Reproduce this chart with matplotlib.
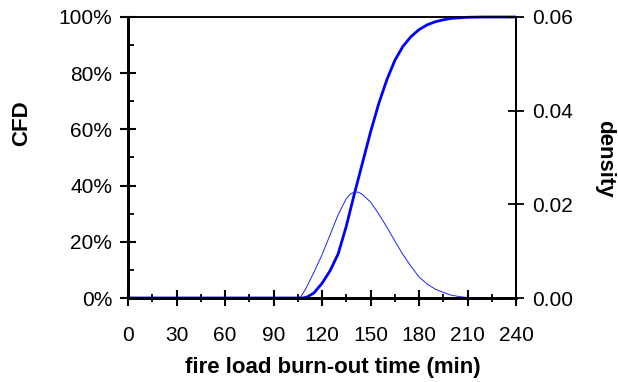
import matplotlib
matplotlib.use("Agg")
import matplotlib.pyplot as plt
from matplotlib.ticker import MultipleLocator, FuncFormatter

# ---- data ----
time_cfd = [0, 105, 108, 111, 115, 120, 125, 130, 135, 140, 145, 150, 155, 160, 165,
            170, 175, 180, 185, 190, 195, 200, 210, 220, 240]
cfd = [0, 0, 0.0, 0.004, 0.018, 0.052, 0.097, 0.157, 0.255, 0.37, 0.48, 0.59, 0.69,
       0.775, 0.845, 0.895, 0.93, 0.955, 0.972, 0.983, 0.99, 0.995, 0.999, 1.0, 1.0]

time_den = [0, 105, 107, 110, 115, 120, 125, 130, 135, 137.5, 140, 142.5, 145, 150,
            155, 160, 165, 170, 175, 180, 185, 190, 195, 200, 205, 210, 215, 224]
density = [0, 0, 0.0003, 0.002, 0.0055, 0.0092, 0.0135, 0.0178, 0.0212, 0.0222,
           0.0226, 0.0226, 0.0221, 0.0205, 0.018, 0.0152, 0.0122, 0.0093, 0.0068,
           0.0045, 0.003, 0.0019, 0.0012, 0.0006, 0.0003, 0.0001, 0.00005, 0]

x_ticks = [0, 30, 60, 90, 120, 150, 180, 210, 240]
cfd_ticks = [0, 0.2, 0.4, 0.6, 0.8, 1.0]
den_ticks = [0.00, 0.02, 0.04, 0.06]

plt.rcParams['font.family'] = ['Liberation Sans', 'DejaVu Sans']

W, H = 618, 382
fig = plt.figure(figsize=(W / 100, H / 100), dpi=100)
L, R, T, B = 128, 516, 17, 298
ax = fig.add_axes([L / W, 1 - B / H, (R - L) / W, (B - T) / H])
ax2 = ax.twinx()

blue = '#0000FF'
ax.plot(time_cfd, cfd, color=blue, lw=2.0, zorder=3, solid_capstyle='butt',
        clip_on=False)
ax2.plot(time_den, density, color='#2020FF', lw=0.7, zorder=2)

ax.set_xlim(0, 240)
ax.set_ylim(0, 1)
ax2.set_ylim(0, 0.06)

ax.set_xticks(x_ticks)
ax.xaxis.set_minor_locator(MultipleLocator(15))
ax.set_yticks(cfd_ticks)
ax.yaxis.set_minor_locator(MultipleLocator(0.1))
ax.yaxis.set_major_formatter(FuncFormatter(lambda v, p: f"{v*100:.0f}%"))
ax2.set_yticks(den_ticks)
ax2.yaxis.set_major_formatter(FuncFormatter(lambda v, p: f"{v:.2f}"))

fs = 15
ax.tick_params(axis='x', which='major', direction='inout', length=12, width=1.5,
               labelsize=fs, pad=14)
ax.tick_params(axis='x', which='minor', direction='inout', length=6, width=1.3)
ax.tick_params(axis='y', which='major', direction='inout', length=11, width=1.5,
               labelsize=fs, pad=6)
ax.tick_params(axis='y', which='minor', direction='in', length=4.5, width=1.3)
ax2.tick_params(axis='y', which='major', direction='inout', length=11, width=1.3,
                labelsize=fs, pad=6)

for a in (ax, ax2):
    a.spines['left'].set_linewidth(2.0)
    a.spines['bottom'].set_linewidth(2.0)
    a.spines['right'].set_linewidth(1.4)
    a.spines['top'].set_linewidth(1.1)

fig.text(333 / W, 1 - 368 / H, 'fire load burn-out time (min)', fontsize=16,
         fontweight='bold', ha='center', va='center')
fig.text(22 / W, 1 - 123 / H, 'CFD', fontsize=16, fontweight='bold',
         ha='center', va='center', rotation=90)
fig.text(605 / W, 1 - 159 / H, 'density', fontsize=16, fontweight='bold',
         ha='center', va='center', rotation=270)

fig.savefig('out.png', dpi=100)
